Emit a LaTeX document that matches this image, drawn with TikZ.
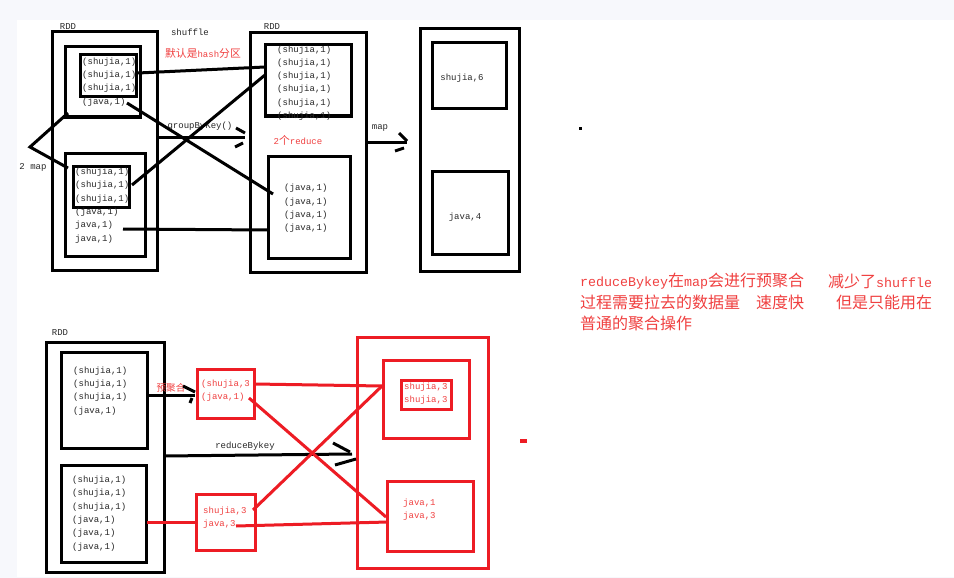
\documentclass[tikz,border=0pt]{standalone}
\usepackage{fontspec}
\setmainfont{Liberation Mono}
\newfontfamily\cjk{Noto Sans CJK SC}[Scale=1.2]
\definecolor{bgc}{RGB}{247,248,252}
\definecolor{pred}{RGB}{237,28,36}
\definecolor{tred}{RGB}{240,64,64}
\definecolor{tgray}{RGB}{40,40,40}
\tikzset{
  bx/.style={draw=black, line width=3pt, inner sep=0pt, outer sep=0pt},
  rbx/.style={draw=pred, line width=3pt, inner sep=0pt, outer sep=0pt},
  txt/.style={font=\fontsize{9}{13.3}\selectfont, inner sep=0pt, align=left, anchor=west, text=tgray},
  rtxt/.style={txt, text=tred},
  lbl/.style={font=\fontsize{9}{13.3}\selectfont, inner sep=0pt, text=tgray},
  note/.style={font=\fontsize{13.33}{21}\selectfont, inner sep=0pt, anchor=west, text=tred},
  conn/.style={line width=3pt, black},
  rconn/.style={line width=3pt, pred},
}
\begin{document}
\begin{tikzpicture}[x=1pt,y=-1pt]
\useasboundingbox (0,0) rectangle (954,578);
\fill[bgc] (0,0) rectangle (954,578);
\fill[white] (17,20) rectangle (954,577);

% ---------- top section ----------
\node[bx, minimum width=105, minimum height=238] (A) at (104.5,151) {};
\node[bx, minimum width=75, minimum height=70] (A1) at (102.5,82) {};
\node[bx, minimum width=56, minimum height=42] (A1i) at (108.5,76) {};
\node[bx, minimum width=80, minimum height=103] (A2) at (105,204.5) {};
\node[bx, minimum width=56, minimum height=41] (A2i) at (101.5,186.5) {};

\node[bx, minimum width=116, minimum height=239] (B) at (308,152.5) {};
\node[bx, minimum width=86, minimum height=71] (B1) at (308,80.5) {};
\node[bx, minimum width=82, minimum height=102] (B2) at (309,207) {};

\node[bx, minimum width=99, minimum height=242] (C) at (469.5,150) {};
\node[bx, minimum width=74, minimum height=66] (C1) at (469,76) {};
\node[bx, minimum width=76, minimum height=83] (C2) at (470,212.5) {};

\node[txt] (tA1) at (82,82) {(shujia,1)\\(shujia,1)\\(shujia,1)\\(java,1)};
\node[txt] (tA2) at (75,205.5) {(shujia,1)\\(shujia,1)\\(shujia,1)\\(java,1)\\java,1)\\java,1)};
\node[txt] (tB1) at (277,83) {(shujia,1)\\(shujia,1)\\(shujia,1)\\(shujia,1)\\(shujia,1)\\(shujia,1)};
\node[txt] (tB2) at (284,208.5) {(java,1)\\(java,1)\\(java,1)\\(java,1)};
\node[lbl] (tC1) at (462,78) {shujia,6};
\node[lbl] (tC2) at (465,217) {java,4};

\node[lbl] (rdd1) at (68,27) {RDD};
\node[lbl] (rdd2) at (272,27) {RDD};
\node[lbl] (shuf) at (190,32) {shuffle};
\node[lbl, text=tred] (hash) at (203,53) {{\cjk 默认是}hash{\cjk 分区}};
\node[lbl] (gbk) at (200,126) {groupByKey()};
\node[lbl, text=tred] (red2) at (298,140) {2{\cjk 个}reduce};
\node[lbl] (mapl) at (380,128) {map};
\node[lbl] (map2) at (33,167) {2 map};

% top connectors
\coordinate (m0) at (30,147);
\coordinate (m1) at (68,113);
\coordinate (m2) at (68,168);
\draw[conn] (m1) -- (m0) -- (m2);

\coordinate (s1a) at (138,73);  \coordinate (s1b) at (265,67);
\coordinate (s2a) at (127,103); \coordinate (s2b) at (273,194);
\coordinate (s3a) at (132,185); \coordinate (s3b) at (265,75);
\coordinate (s4a) at (123,229); \coordinate (s4b) at (268,230);
\draw[conn] (s1a) -- (s1b);
\draw[conn] (s2a) -- (s2b);
\draw[conn] (s3a) -- (s3b);
\draw[conn] (s4a) -- (s4b);

\coordinate (g0) at (157,137); \coordinate (g1) at (245,137);
\coordinate (gh1) at (236,128); \coordinate (gh2) at (245,133);
\coordinate (gh3) at (235,147); \coordinate (gh4) at (243,143);
\draw[conn] (g0) -- (g1);
\draw[conn] (gh1) -- (gh2);
\draw[conn] (gh3) -- (gh4);

\coordinate (p0) at (366,142); \coordinate (p1) at (407,142);
\coordinate (ph1) at (399,133); \coordinate (ph2) at (407,141);
\coordinate (ph3) at (395,151); \coordinate (ph4) at (404,148);
\draw[conn] (p0) -- (p1);
\draw[conn] (ph1) -- (ph2);
\draw[conn] (ph3) -- (ph4);

\fill[black] (578.5,126.5) rectangle (581.5,129.5);

% ---------- note ----------
\node[note] (n1a) at (580,281) {reduceBykey{\cjk 在}map{\cjk 会进行预聚合}};
\node[note] (n1b) at (828,281) {{\cjk 减少了}shuffle};
\node[note] (n2a) at (580,302) {{\cjk 过程需要拉去的数据量}};
\node[note] (n2b) at (756,302) {{\cjk 速度快}};
\node[note] (n2c) at (836,302) {{\cjk 但是只能用在}};
\node[note] (n3a) at (580,323) {{\cjk 普通的聚合操作}};
\fill[pred] (520,439) rectangle (527,443);

% ---------- bottom section ----------
\node[bx, minimum width=118, minimum height=230] (D) at (105,457) {};
\node[bx, minimum width=86, minimum height=96] (D1) at (104,400) {};
\node[bx, minimum width=85, minimum height=97] (D2) at (103.5,513.5) {};
\node[rbx, minimum width=57, minimum height=49] (P1) at (225.5,393.5) {};
\node[rbx, minimum width=59, minimum height=56] (P2) at (225.5,522) {};
\node[rbx, minimum width=131, minimum height=231] (E) at (422.5,452.5) {};
\node[rbx, minimum width=86, minimum height=78] (E1) at (426,399) {};
\node[rbx, minimum width=50, minimum height=29] (E1i) at (426,394.5) {};
\node[rbx, minimum width=86, minimum height=70] (E2) at (430,516) {};

\node[lbl] (rdd3) at (60,333) {RDD};
\node[txt] (tD1) at (73,391) {(shujia,1)\\(shujia,1)\\(shujia,1)\\(java,1)};
\node[txt] (tD2) at (72,513.5) {(shujia,1)\\(shujia,1)\\(shujia,1)\\(java,1)\\(java,1)\\(java,1)};
\node[rtxt] (tP1) at (201,391) {(shujia,3\\(java,1)};
\node[rtxt] (tP2) at (203,518) {shujia,3\\java,3};
\node[rtxt] (tE1) at (404,393.5) {shujia,3\\shujia,3};
\node[rtxt] (tE2) at (403,510) {java,1\\java,3};
\node[lbl, text=tred, font=\fontsize{8}{10}\selectfont] (yjh) at (171,388) {{\cjk 预聚合}};
\node[lbl] (rbk) at (245,446) {reduceBykey};

% bottom connectors
\coordinate (q0) at (147,395); \coordinate (q1) at (195,395);
\coordinate (qh1) at (183,386); \coordinate (qh2) at (195,392);
\coordinate (qh3) at (190,403); \coordinate (qh4) at (192,398);
\draw[conn] (q0) -- (q1);
\draw[conn] (qh1) -- (qh2);
\draw[conn] (qh3) -- (qh4);

\coordinate (r0) at (164,456); \coordinate (r1) at (352,454);
\coordinate (rh1) at (333,443); \coordinate (rh2) at (350,452);
\coordinate (rh3) at (335,465); \coordinate (rh4) at (356,459);
\draw[conn] (r0) -- (r1);
\draw[conn] (rh1) -- (rh2);
\draw[conn] (rh3) -- (rh4);

\coordinate (x1a) at (147,522); \coordinate (x1b) at (195,522);
\coordinate (x2a) at (254,384); \coordinate (x2b) at (382,386);
\coordinate (x3a) at (249,398); \coordinate (x3b) at (386,517);
\coordinate (x4a) at (253,510); \coordinate (x4b) at (382,386);
\coordinate (x5a) at (236,526); \coordinate (x5b) at (388,522);
\draw[rconn] (x1a) -- (x1b);
\draw[rconn] (x2a) -- (x2b);
\draw[rconn] (x3a) -- (x3b);
\draw[rconn] (x4a) -- (x4b);
\draw[rconn] (x5a) -- (x5b);
\end{tikzpicture}
\end{document}
